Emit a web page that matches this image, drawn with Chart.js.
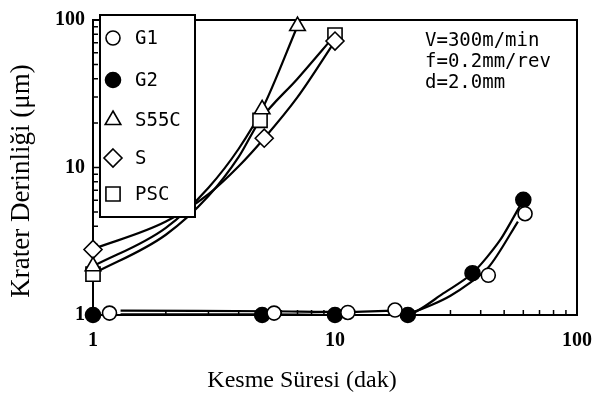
<!DOCTYPE html>
<html>
<head>
<meta charset="utf-8">
<script src="https://cdn.jsdelivr.net/npm/chart.js@4.4.1/dist/chart.umd.min.js"></script>
<style>
  html, body { margin: 0; padding: 0; background: #fff; }
  #wrap { width: 596px; height: 396px; }
</style>
</head>
<body>
<div id="wrap"><canvas id="c" width="596" height="396"></canvas></div>
<script>
// Crater depth vs. cutting time for five tool grades (log-log)
const seriesNames = ['G1', 'G2', 'S55C', 'S', 'PSC'];

// measured points
const timeG1  = [1.17, 5.6, 11.3, 17.7, 43, 61];
const depthG1 = [1.03, 1.03, 1.04, 1.08, 1.86, 4.86];

const timeG2  = [1, 5, 10, 20, 37, 60];
const depthG2 = [1, 1, 1, 1, 1.92, 6.04];

const timeS55C  = [1, 5, 7];
const depthS55C = [2.14, 24.8, 91];

const timeS  = [1, 5.1, 10];
const depthS = [2.78, 15.8, 72];

const timePSC  = [1, 4.9, 10];
const depthPSC = [1.89, 20.9, 79];

// hand-drawn trend curves
const curveTimeG1  = [1.3, 5.6, 11.3, 17.7, 21, 30, 43, 57];
const curveDepthG1 = [1.07, 1.06, 1.05, 1.07, 1.05, 1.35, 2.1, 4.3];

const curveTimeG2  = [1.3, 5, 10, 20, 28, 37, 48, 60];
const curveDepthG2 = [1.01, 1.01, 1.0, 1.0, 1.4, 1.92, 3.2, 6.04];

const curveTimeS55C  = [1, 2, 3, 4, 5, 7];
const curveDepthS55C = [2.14, 3.9, 7.3, 13.4, 24.8, 91];

const curveTimeS  = [1, 2, 3, 4, 5.1, 7, 10];
const curveDepthS = [2.8, 4.3, 6.6, 10.2, 15.8, 30, 72];

const curveTimePSC  = [1, 2, 3, 4, 4.9, 7, 10];
const curveDepthPSC = [1.9, 3.5, 6.4, 11.8, 20.9, 40, 79];

const xTickLabels = [1, 10, 100];
const yTickLabels = [1, 10, 100];

const conditions = ['V=300m/min', 'f=0.2mm/rev', 'd=2.0mm'];
const xTitle = 'Kesme Süresi (dak)';
const yTitle = 'Krater Derinliği (μm)';

const pts = (xs, ys) => xs.map((x, i) => ({ x: x, y: ys[i] }));

const markers = {
  G1:   { pointStyle: 'circle',   radius: 7,   bg: '#fff' },
  G2:   { pointStyle: 'circle',   radius: 7.5, bg: '#000' },
  S55C: { pointStyle: 'triangle', radius: 9,   bg: '#fff' },
  S:    { pointStyle: 'rectRot',  radius: 9,   bg: '#fff' },
  PSC:  { pointStyle: 'rect',     radius: 10,  bg: '#fff' }
};

const seriesData = {
  G1: pts(timeG1, depthG1),
  G2: pts(timeG2, depthG2),
  S55C: pts(timeS55C, depthS55C),
  S: pts(timeS, depthS),
  PSC: pts(timePSC, depthPSC)
};

const curveData = {
  G1: { pts: pts(curveTimeG1, curveDepthG1), smooth: false },
  G2: { pts: pts(curveTimeG2, curveDepthG2), smooth: false },
  S55C: { pts: pts(curveTimeS55C, curveDepthS55C), smooth: true },
  S: { pts: pts(curveTimeS, curveDepthS), smooth: true },
  PSC: { pts: pts(curveTimePSC, curveDepthPSC), smooth: true }
};

const datasets = [];
// trend curves first (drawn underneath)
seriesNames.forEach(name => {
  const c = curveData[name];
  datasets.push({
    label: name + ' curve',
    data: c.pts,
    showLine: true,
    borderColor: '#000',
    borderWidth: 2.2,
    pointRadius: 0,
    cubicInterpolationMode: c.smooth ? 'monotone' : 'default',
    tension: c.smooth ? 0.4 : 0.25,
    borderJoinStyle: 'round',
    fill: false,
    clip: false,
    order: 2
  });
});
// markers on top
seriesNames.forEach(name => {
  const m = markers[name];
  datasets.push({
    label: name,
    data: seriesData[name],
    showLine: false,
    pointStyle: m.pointStyle,
    pointRadius: m.radius,
    pointBackgroundColor: m.bg,
    pointBorderColor: '#000',
    pointBorderWidth: 1.6,
    clip: false,
    order: 1
  });
});

const minorTicks = [];
[1, 10].forEach(d => { for (let k = 1; k <= 9; k++) minorTicks.push(k * d); });
minorTicks.push(100);

function drawMarker(ctx, style, x, y, r, bg) {
  ctx.save();
  ctx.beginPath();
  if (style === 'circle') {
    ctx.arc(x, y, r, 0, Math.PI * 2);
  } else if (style === 'triangle') {
    ctx.moveTo(x, y - r);
    ctx.lineTo(x + r * Math.sin(Math.PI / 3), y + r / 2);
    ctx.lineTo(x - r * Math.sin(Math.PI / 3), y + r / 2);
    ctx.closePath();
  } else if (style === 'rectRot') {
    ctx.moveTo(x, y - r);
    ctx.lineTo(x + r, y);
    ctx.lineTo(x, y + r);
    ctx.lineTo(x - r, y);
    ctx.closePath();
  } else {
    const s = r * Math.SQRT1_2;
    ctx.rect(x - s, y - s, 2 * s, 2 * s);
  }
  ctx.fillStyle = bg;
  ctx.fill();
  ctx.strokeStyle = '#000';
  ctx.lineWidth = 1.6;
  ctx.stroke();
  ctx.restore();
}

const framePlugin = {
  id: 'frame',
  beforeDatasetsDraw(chart) {
    const { ctx, chartArea: a, scales } = chart;
    ctx.save();
    ctx.strokeStyle = '#000';
    ctx.lineWidth = 2;
    ctx.strokeRect(a.left, a.top, a.right - a.left, a.bottom - a.top);
    ctx.lineWidth = 1.5;
    ctx.beginPath();
    minorTicks.forEach(v => {
      const major = xTickLabels.includes(v);
      const len = major ? 8 : 5;
      const px = scales.x.getPixelForValue(v);
      ctx.moveTo(px, a.bottom);
      ctx.lineTo(px, a.bottom - len);
      const py = scales.y.getPixelForValue(v);
      ctx.moveTo(a.left, py);
      ctx.lineTo(a.left + len, py);
    });
    ctx.stroke();
    ctx.restore();
  },
  afterDraw(chart) {
    const { ctx, chartArea: a } = chart;
    ctx.save();
    // legend box
    const bx = a.left + 7, by = a.top - 5, bw = 95, bh = 202;
    ctx.fillStyle = '#fff';
    ctx.fillRect(bx, by, bw, bh);
    ctx.strokeStyle = '#000';
    ctx.lineWidth = 2;
    ctx.strokeRect(bx, by, bw, bh);
    const rowY = [38, 80, 120, 158, 194];
    ctx.font = '19px "DejaVu Sans Mono"';
    ctx.textBaseline = 'middle';
    ctx.textAlign = 'left';
    seriesNames.forEach((name, i) => {
      const m = markers[name];
      const cx = a.left + 20, cy = rowY[i];
      drawMarker(ctx, m.pointStyle, cx, cy, m.radius, m.bg);
      ctx.fillStyle = '#000';
      ctx.fillText(name, a.left + 42, cy + 1);
    });
    // cutting conditions
    conditions.forEach((t, i) => {
      ctx.fillText(t, 425, 41 + i * 21);
    });
    // axis titles
    ctx.font = '24px "Liberation Serif"';
    ctx.textAlign = 'center';
    ctx.fillText(xTitle, 302, 381);
    ctx.font = '27px "Liberation Serif"';
    ctx.translate(22, 181);
    ctx.rotate(-Math.PI / 2);
    ctx.fillText(yTitle, 0, 0);
    ctx.restore();
  }
};

const tickFont = { family: '"Liberation Serif"', size: 20, weight: 'bold' };
const hiddenGrid = { display: true, drawOnChartArea: false, drawTicks: true, color: 'rgba(0,0,0,0)' };

new Chart(document.getElementById('c'), {
  type: 'scatter',
  data: { datasets: datasets },
  options: {
    responsive: false,
    animation: false,
    devicePixelRatio: 1,
    layout: { padding: { left: 0, right: 19, top: 20, bottom: 0 } },
    plugins: { legend: { display: false }, tooltip: { enabled: false } },
    scales: {
      x: {
        type: 'logarithmic',
        min: 1, max: 100,
        grid: Object.assign({ tickLength: 12 }, hiddenGrid),
        border: { display: false },
        ticks: {
          color: '#000', font: tickFont, padding: 2, maxRotation: 0, autoSkip: false,
          callback: v => xTickLabels.includes(v) ? String(v) : ''
        },
        afterFit(s) { s.height = 81; }
      },
      y: {
        type: 'logarithmic',
        min: 1, max: 100,
        grid: Object.assign({ tickLength: 6 }, hiddenGrid),
        border: { display: false },
        ticks: {
          color: '#000', font: tickFont, padding: 2, autoSkip: false,
          callback: v => yTickLabels.includes(v) ? String(v) : ''
        },
        afterFit(s) { s.width = 93; }
      }
    }
  },
  plugins: [framePlugin]
});
</script>
</body>
</html>
